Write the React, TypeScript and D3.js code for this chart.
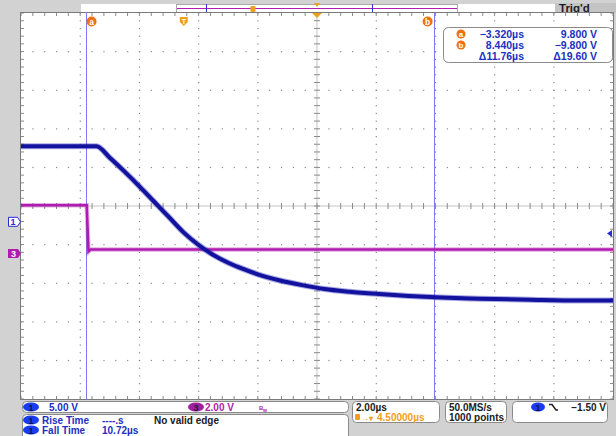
import React from "react"
import * as d3 from "d3"

// scope settings
const ch1VoltsPerDiv = 5
const ch3VoltsPerDiv = 2
const ch1OffsetDiv = -0.41
const ch3OffsetDiv = -1.23
const timeWindow = [-5.5, 14.5] // 2 µs/div, trigger at 4.5 µs left of centre
const triggerLevel = -1.5

// waveforms (µs, V)
const ch1Time = [-5.5, -2.95, -2.5, -2.0, -1.5, -1.0, -0.5, 0, 0.5, 1.0, 1.5, 2.0, 2.5, 3.25, 4.0, 4.75, 5.6, 6.6, 7.6, 8.7, 10.0, 11.7, 13.4, 14.5]
const ch1Volts = [9.8, 9.8, 8.3, 6.5, 4.6, 2.6, 0.6, -1.4, -3.0, -4.3, -5.3, -6.1, -6.8, -7.6, -8.2, -8.7, -9.05, -9.35, -9.6, -9.8, -9.95, -10.1, -10.2, -10.2]
const ch3Time = [-5.5, -3.28, -3.22, -3.15, 14.5]
const ch3Volts = [2.5, 2.5, 0.1, 0.2, 0.2]

// cursors
const cursorTimes = [-3.32, 8.44]
const cursorLabels = ["a", "b"]
const readoutTimes = ["\u22123.320\u00b5s", "8.440\u00b5s", "\u039411.76\u00b5s"]
const readoutVolts = ["9.800 V", "\u22129.800 V", "\u039419.60 V"]

const L = 21, R = 613, T = 13, B = 399
const font = "'Liberation Sans', Arial, sans-serif"
const blueText = "#2030c0"
const purple = "#b01cb0"
const orange = "#f07010"

export default function App() {
	const x = d3.scaleLinear().domain(timeWindow).range([L, R])
	const xDiv = d3.scaleLinear().domain([-5, 5]).range([L, R])
	const yDiv = d3.scaleLinear().domain([-5, 5]).range([B, T])
	const y1 = d3.scaleLinear()
		.domain([(-5 - ch1OffsetDiv) * ch1VoltsPerDiv, (5 - ch1OffsetDiv) * ch1VoltsPerDiv])
		.range([B, T])
	const y3 = d3.scaleLinear()
		.domain([(-5 - ch3OffsetDiv) * ch3VoltsPerDiv, (5 - ch3OffsetDiv) * ch3VoltsPerDiv])
		.range([B, T])

	const line1 = d3.line<number>().x((d, i) => x(ch1Time[i])).y(d => y1(d)).curve(d3.curveMonotoneX)
	const line3 = d3.line<number>().x((d, i) => x(ch3Time[i])).y(d => y3(d))

	const minor = d3.range(-5, 5.001, 0.2)
	const major = d3.range(-4, 5, 1)

	const dots = []
	major.forEach(m => {
		if (m === 0) return
		minor.forEach(n => {
			dots.push(<rect key={"v" + m + n} x={xDiv(m) - 0.5} y={yDiv(n) - 0.5} width={1.2} height={1.2} fill="#8a8a8a" />)
			dots.push(<rect key={"h" + m + n} x={xDiv(n) - 0.5} y={yDiv(m) - 0.5} width={1.2} height={1.2} fill="#8a8a8a" />)
		})
	})

	const ticks = []
	minor.forEach((n, i) => {
		const xx = xDiv(n), yy = yDiv(n)
		ticks.push(<line key={"t" + i} x1={xx} x2={xx} y1={T} y2={T + 3} />)
		ticks.push(<line key={"b" + i} x1={xx} x2={xx} y1={B - 3} y2={B} />)
		ticks.push(<line key={"l" + i} x1={L} x2={L + 3} y1={yy} y2={yy} />)
		ticks.push(<line key={"r" + i} x1={R - 3} x2={R} y1={yy} y2={yy} />)
		ticks.push(<line key={"cx" + i} x1={xx} x2={xx} y1={yDiv(0) - 3} y2={yDiv(0) + 3} />)
		ticks.push(<line key={"cy" + i} x1={xDiv(0) - 3} x2={xDiv(0) + 3} y1={yy} y2={yy} />)
	})

	const g1 = y1(0)
	const g3 = y3(0)
	const trigY = y1(triggerLevel)
	const tx = x(0)

	return (
		<svg width={616} height={436} style={{ position: "fixed", left: 0, top: 0 }} fontFamily={font}>
			<rect x={0} y={0} width={616} height={436} fill="#d2d2d2" />
			{/* top status strip */}
			<rect x={81} y={4} width={474} height={9} fill="#fff" />
			<rect x={176.5} y={4.5} width={281} height={8.5} fill="#fff" stroke="#a8a8a8" />
			<line x1={177} x2={457} y1={8.5} y2={8.5} stroke={purple} strokeWidth={1.2} />
			<line x1={206.5} x2={206.5} y1={4} y2={13} stroke="#3030d0" />
			<line x1={372.5} x2={372.5} y1={4} y2={13} stroke="#3030d0" />
			<rect x={250.5} y={6} width={5} height={6} rx={1} fill="#f0a020" />
			<path d="M314,3 L320,3 L317,7 Z" fill="#f0a020" />
			<rect x={555} y={3} width={61} height={10} fill="#c4c4c4" />
			<text x={559} y={12} fontSize={11.5} fontWeight="bold" fill="#202020">Trig'd</text>

			{/* graticule */}
			<rect x={L} y={T} width={R - L} height={B - T} fill="#fff" />
			{dots}
			<line x1={L} x2={R} y1={yDiv(0)} y2={yDiv(0)} stroke="#c4c4c4" />
			<line x1={xDiv(0)} x2={xDiv(0)} y1={T} y2={B} stroke="#c4c4c4" />
			<g stroke="#8a8a8a" strokeWidth={1}>{ticks}</g>
			<rect x={L - 0.5} y={T - 0.5} width={R - L + 1} height={B - T + 1} fill="none" stroke="#7a7a7a" />

			{/* cursors */}
			{cursorTimes.map((c, i) => (
				<line key={"c" + i} x1={Math.round(x(c)) + 0.5} x2={Math.round(x(c)) + 0.5} y1={T} y2={B} stroke="#7b7bf2" strokeWidth={1} />
			))}

			{/* waveforms: a faint wide stroke under a solid one stands in for the trace noise */}
			<path d={line3(ch3Volts) || ""} fill="none" stroke={purple} strokeWidth={4.5} strokeOpacity={0.35} />
			<path d={line3(ch3Volts) || ""} fill="none" stroke={purple} strokeWidth={2.5} />
			<path d={line1(ch1Volts) || ""} fill="none" stroke="#2a2ab8" strokeWidth={6} strokeOpacity={0.4} />
			<path d={line1(ch1Volts) || ""} fill="none" stroke="#12129e" strokeWidth={4} />

			{/* markers at top of graticule */}
			{cursorTimes.map((c, i) => {
				const cx = x(c) + (i === 0 ? 6 : -6)
				return (
					<g key={"cl" + i}>
						<circle cx={cx} cy={21.5} r={5} fill={orange} />
						<text x={cx} y={24.5} fontSize={8.5} fontWeight="bold" fill="#fff" textAnchor="middle">{cursorLabels[i]}</text>
					</g>
				)
			})}
			<path d={`M${tx - 4},17 h8 v5 l-4,4 l-4,-4 Z`} fill="#f0a020" />
			<text x={tx} y={23.5} fontSize={7} fontWeight="bold" fill="#fff" textAnchor="middle">T</text>
			<path d={`M${xDiv(0) - 5},13 h10 l-5,5 Z`} fill="#f0a020" />

			{/* channel ground markers */}
			<path d={`M8.5,${g1 - 4.5} h9 l3,4.5 l-3,4.5 h-9 Z`} fill="#fff" stroke="#2a2ad0" />
			<text x={13} y={g1 + 3.5} fontSize={9} fontWeight="bold" fill="#2a2ad0" textAnchor="middle">1</text>
			<path d={`M8,${g3 - 4.5} h10 l3,4.5 l-3,4.5 h-10 Z`} fill={purple} />
			<text x={13.5} y={g3 + 3.5} fontSize={9} fontWeight="bold" fill="#fff" textAnchor="middle">3</text>
			<path d={`M607,${trigY} l5,-3.5 v7 Z`} fill="#2a2ad0" />

			{/* cursor readout */}
			<rect x={443.5} y={27.5} width={169} height={35} rx={5} fill="#fff" stroke="#8a8a8a" />
			{readoutTimes.map((t, i) => (
				<g key={"ro" + i}>
					{i < 2 && <circle cx={461} cy={34 + i * 11} r={4.5} fill={orange} />}
					{i < 2 && <text x={461} y={37 + i * 11} fontSize={8} fontWeight="bold" fill="#fff" textAnchor="middle">{cursorLabels[i]}</text>}
					<text x={524} y={38 + i * 11} fontSize={10.5} fontWeight="bold" fill={blueText} textAnchor="end">{t}</text>
					<text x={597} y={38 + i * 11} fontSize={10.5} fontWeight="bold" fill={blueText} textAnchor="end">{readoutVolts[i]}</text>
				</g>
			))}

			{/* bottom info boxes */}
			<rect x={22.5} y={401.5} width={326} height={11} rx={4} fill="#fff" stroke="#8a8a8a" />
			<ellipse cx={31} cy={407} rx={8} ry={4.5} fill="#1a3cf0" />
			<text x={31} y={410.5} fontSize={9} fontWeight="bold" fill="#101050" textAnchor="middle">1</text>
			<text x={49} y={411} fontSize={10} fontWeight="bold" fill={blueText}>5.00 V</text>
			<ellipse cx={196} cy={407} rx={8} ry={4.5} fill="#a020a0" />
			<text x={196} y={410.5} fontSize={9} fontWeight="bold" fill="#301030" textAnchor="middle">3</text>
			<text x={205} y={411} fontSize={10} fontWeight="bold" fill={purple}>2.00 V</text>
			<text x={259} y={410} fontSize={6} fontWeight="bold" fill={purple}>B</text>
			<text x={263} y={412} fontSize={5} fontWeight="bold" fill={purple}>w</text>

			<rect x={22.5} y={414.5} width={326} height={26} rx={4} fill="#fff" stroke="#8a8a8a" />
			<ellipse cx={31} cy={420} rx={8} ry={4.5} fill="#1a3cf0" />
			<text x={31} y={423.5} fontSize={9} fontWeight="bold" fill="#101050" textAnchor="middle">1</text>
			<text x={42} y={424} fontSize={10} fontWeight="bold" fill={blueText}>Rise Time</text>
			<text x={102} y={424} fontSize={10} fontWeight="bold" fill={blueText}>----.s</text>
			<text x={154} y={424} fontSize={10} fontWeight="bold" fill="#202020">No valid edge</text>
			<ellipse cx={31} cy={430} rx={8} ry={4.5} fill="#1a3cf0" />
			<text x={31} y={433.5} fontSize={9} fontWeight="bold" fill="#101050" textAnchor="middle">1</text>
			<text x={42} y={434} fontSize={10} fontWeight="bold" fill={blueText}>Fall Time</text>
			<text x={102} y={434} fontSize={10} fontWeight="bold" fill={blueText}>10.72µs</text>

			<rect x={352.5} y={401.5} width={87} height={21} rx={4} fill="#fff" stroke="#8a8a8a" />
			<text x={356} y={411} fontSize={10} fontWeight="bold" fill="#202020">2.00µs</text>
			<rect x={355} y={414} width={5} height={6} rx={1} fill="#f0a020" />
			<text x={361} y={420.5} fontSize={8} fontWeight="bold" fill="#f0a020">→▾</text>
			<text x={377} y={421} fontSize={10} fontWeight="bold" fill="#f0a020">4.50000µs</text>

			<rect x={445.5} y={401.5} width={61} height={21} rx={4} fill="#fff" stroke="#8a8a8a" />
			<text x={449} y={411} fontSize={10} fontWeight="bold" fill="#202020">50.0MS/s</text>
			<text x={449} y={421} fontSize={10} fontWeight="bold" fill="#202020">1000 points</text>

			<rect x={512.5} y={401.5} width={95} height={21} rx={4} fill="#fff" stroke="#8a8a8a" />
			<ellipse cx={538} cy={407} rx={7} ry={4.5} fill="#1a3cf0" />
			<text x={538} y={410.5} fontSize={9} fontWeight="bold" fill="#101050" textAnchor="middle">1</text>
			<path d="M549,404.5 h3 l4,5.5 h2" fill="none" stroke="#202020" strokeWidth={1.5} />
			<text x={606} y={411} fontSize={10} fontWeight="bold" fill="#202020" textAnchor="end">−1.50 V</text>
		</svg>
	)
}
